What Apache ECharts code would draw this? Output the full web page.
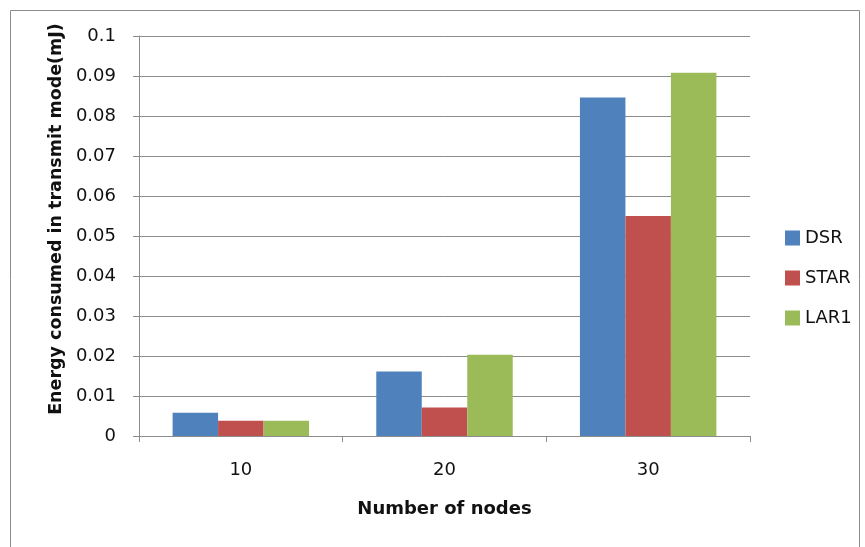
<!DOCTYPE html>
<html>
<head>
<meta charset="utf-8">
<script src="https://cdn.jsdelivr.net/npm/echarts@6/dist/echarts.min.js"></script>
<style>html,body{margin:0;padding:0;background:#fff;}#c{width:865px;height:547px;}</style>
</head>
<body>
<div id="c"></div>
<script>
const categories = ['10', '20', '30'];
const dsr = [0.0058, 0.0161, 0.0846];
const star = [0.0038, 0.0071, 0.055];
const lar1 = [0.0038, 0.0203, 0.0908];
const seriesNames = ['DSR', 'STAR', 'LAR1'];
const colors = ['#4F81BD', '#C0504D', '#9BBB59'];
const yAxisTitle = 'Energy consumed in transmit mode(mJ)';
const xAxisTitle = 'Number of nodes';

const font = 'DejaVu Sans, sans-serif';
const chart = echarts.init(document.getElementById('c'), null, {renderer: 'canvas'});
const values = [dsr, star, lar1];
chart.setOption({
  animation: false,
  backgroundColor: '#fff',
  graphic: [{
    type: 'rect', left: 8, top: 8, z: -10,
    shape: {width: 849, height: 560},
    style: {fill: 'none', stroke: '#8c8c8c', lineWidth: 1}
  }],
  legend: {
    orient: 'vertical', left: 780, top: 224, itemGap: 22,
    itemWidth: 15, itemHeight: 15, icon: 'rect',
    textStyle: {fontFamily: font, fontSize: 18, color: '#111'},
    data: seriesNames
  },
  grid: {left: 139, right: 115, top: 36, bottom: 111, containLabel: false},
  xAxis: {
    type: 'category', data: categories,
    name: xAxisTitle, nameLocation: 'middle', nameGap: 64,
    nameTextStyle: {fontFamily: font, fontSize: 18, fontWeight: 'bold', color: '#111'},
    axisLine: {lineStyle: {color: '#8c8c8c'}},
    axisTick: {show: true, length: 6, lineStyle: {color: '#8c8c8c'}},
    axisLabel: {fontFamily: font, fontSize: 18, color: '#111', margin: 25}
  },
  yAxis: {
    type: 'value', min: 0, max: 0.1, interval: 0.01,
    name: yAxisTitle, nameLocation: 'middle', nameGap: 72,
    nameTextStyle: {fontFamily: font, fontSize: 17.5, fontWeight: 'bold', color: '#111', padding: [0, 0, 0, 34]},
    axisLine: {show: true, lineStyle: {color: '#8c8c8c'}},
    axisTick: {show: true, length: 6, lineStyle: {color: '#8c8c8c'}},
    axisLabel: {fontFamily: font, fontSize: 18, color: '#111', margin: 23, padding: [5, 0, 0, 0],
      formatter: v => String(+v.toFixed(2))},
    splitLine: {lineStyle: {color: '#8c8c8c'}}
  },
  series: seriesNames.map((n, i) => ({
    name: n, type: 'bar', data: values[i],
    barGap: '0%', barCategoryGap: '33%',
    itemStyle: {color: colors[i]}
  }))
});
</script>
</body>
</html>
